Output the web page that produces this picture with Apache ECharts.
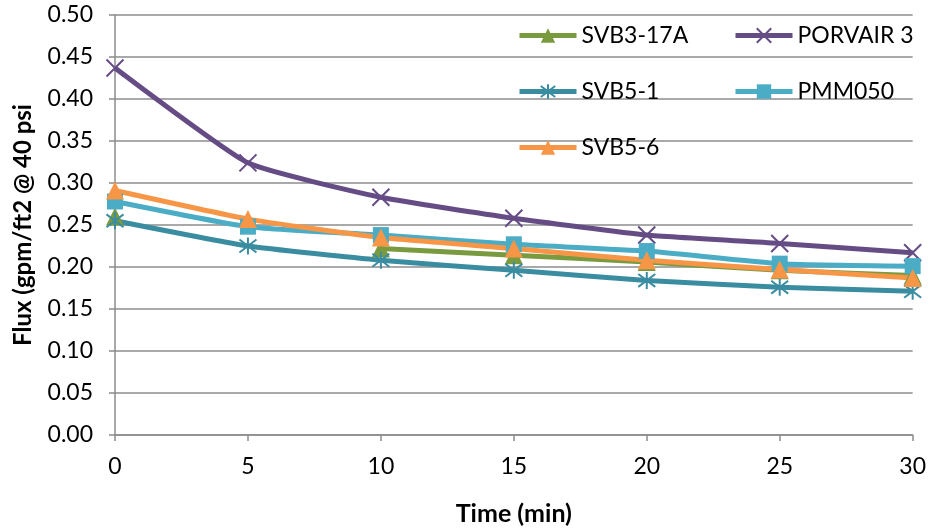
<!DOCTYPE html>
<html>
<head>
<meta charset="utf-8">
<script src="https://cdn.jsdelivr.net/npm/echarts@6/dist/echarts.min.js"></script>
<style>html,body{margin:0;padding:0;background:#fff}#c{width:929px;height:531px}</style>
</head>
<body>
<div id="c"></div>
<script>
var times = [0, 5, 10, 15, 20, 25, 30];
var svb3_17a = [0.260, null, 0.222, 0.214, 0.206, 0.196, 0.190];
var porvair3 = [0.437, 0.324, 0.283, 0.258, 0.238, 0.228, 0.217];
var svb5_1 = [0.255, 0.225, 0.208, 0.196, 0.184, 0.176, 0.171];
var pmm050 = [0.278, 0.248, 0.238, 0.227, 0.219, 0.204, 0.201];
var svb5_6 = [0.291, 0.257, 0.235, 0.222, 0.208, 0.197, 0.187];
var seriesNames = ['SVB3-17A', 'PORVAIR 3', 'SVB5-1', 'PMM050', 'SVB5-6'];

function pairs(v) { return times.map(function (t, i) { return [t, v[i]]; }); }

var FONT = 'Lato';
var gridColor = '#8c8c8c';
var xSym = 'path://M0,0L10,10M10,0L0,10';
var starSym = 'path://M5,0L5,10M1.2,1.2L8.8,8.8M8.8,1.2L1.2,8.8';

function mk(name, data, color, symbol, size, stroked) {
  return {
    name: name, type: 'line', data: pairs(data), smooth: 0.15, connectNulls: false,
    symbol: symbol, symbolSize: size,
    lineStyle: { color: color, width: 5 },
    itemStyle: stroked ? { color: color, borderColor: color, borderWidth: 2 } : { color: color, borderWidth: 0 }
  };
}

var legendCommon = {
  orient: 'vertical', top: 24, padding: 0,
  itemWidth: 57, itemHeight: 18, itemGap: 33,
  lineStyle: { width: 5 },
  textStyle: { fontFamily: FONT, fontSize: 23, color: '#000' }
};

var chart = echarts.init(document.getElementById('c'));
chart.setOption({
  animation: false,
  grid: { left: 115, right: 16, top: 15, bottom: 93 },
  legend: [
    Object.assign({ data: [seriesNames[0], seriesNames[2], seriesNames[4]], left: 517 }, legendCommon),
    Object.assign({ data: [seriesNames[1], seriesNames[3]], left: 733 }, legendCommon)
  ],
  xAxis: {
    type: 'value', min: 0, max: 30, interval: 5,
    name: 'Time (min)', nameLocation: 'middle', nameGap: 66,
    nameTextStyle: { fontFamily: FONT, fontSize: 25, fontWeight: 'bold', color: '#000' },
    axisLine: { lineStyle: { color: gridColor, width: 1.5 } },
    axisTick: { show: true, length: 6, lineStyle: { color: gridColor, width: 1.5 } },
    axisLabel: { fontFamily: FONT, fontSize: 23, color: '#000', margin: 20 },
    splitLine: { show: false }
  },
  yAxis: {
    type: 'value', min: 0, max: 0.5, interval: 0.05,
    name: 'Flux (gpm/ft2 @ 40 psi', nameLocation: 'middle', nameGap: 80,
    nameTextStyle: { fontFamily: FONT, fontSize: 24, fontWeight: 'bold', color: '#000' },
    axisLine: { show: true, lineStyle: { color: gridColor, width: 1.5 } },
    axisTick: { show: true, length: 6, lineStyle: { color: gridColor, width: 1.5 } },
    axisLabel: { fontFamily: FONT, fontSize: 23, color: '#000', margin: 22,
      formatter: function (v) { return v.toFixed(2); } },
    splitLine: { show: true, lineStyle: { color: gridColor, width: 1.5 } }
  },
  series: [
    mk(seriesNames[0], svb3_17a, '#7a9a3f', 'triangle', 18, false),
    mk(seriesNames[1], porvair3, '#664c85', xSym, 17, true),
    mk(seriesNames[2], svb5_1, '#3a8da1', starSym, 17, true),
    mk(seriesNames[3], pmm050, '#4bacc6', 'rect', 16, false),
    mk(seriesNames[4], svb5_6, '#f79646', 'triangle', 18, false)
  ]
});
</script>
</body>
</html>
